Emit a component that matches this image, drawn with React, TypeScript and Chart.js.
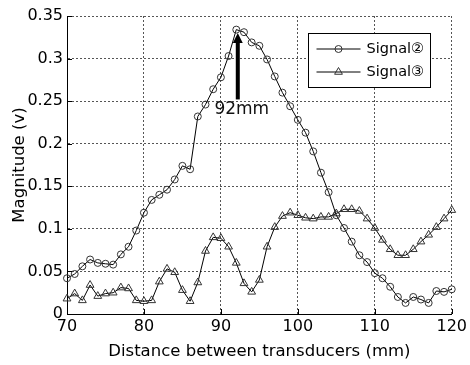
import { useEffect, useRef } from 'react';
import { Chart, registerables } from 'chart.js';

Chart.register(...registerables);

// Transducer spacing (mm) and the measured magnitudes (V) of the two signals
const distances = [
  70, 71, 72, 73, 74, 75, 76, 77, 78, 79,
  80, 81, 82, 83, 84, 85, 86, 87, 88, 89,
  90, 91, 92, 93, 94, 95, 96, 97, 98, 99,
  100, 101, 102, 103, 104, 105, 106, 107, 108, 109,
  110, 111, 112, 113, 114, 115, 116, 117, 118, 119,
  120,
];

const signal2 = [
  0.042, 0.047, 0.056, 0.064, 0.060, 0.059, 0.058, 0.070, 0.079, 0.098,
  0.119, 0.134, 0.140, 0.146, 0.158, 0.174, 0.170, 0.232, 0.246, 0.264,
  0.278, 0.303, 0.334, 0.331, 0.319, 0.315, 0.299, 0.279, 0.260, 0.244,
  0.228, 0.213, 0.191, 0.166, 0.143, 0.116, 0.101, 0.085, 0.069, 0.061,
  0.048, 0.042, 0.032, 0.020, 0.013, 0.020, 0.017, 0.013, 0.027, 0.026,
  0.029,
];

const signal3 = [
  0.018, 0.024, 0.016, 0.034, 0.021, 0.024, 0.025, 0.031, 0.030, 0.016,
  0.015, 0.016, 0.038, 0.053, 0.049, 0.028, 0.015, 0.037, 0.074, 0.090,
  0.089, 0.079, 0.060, 0.036, 0.026, 0.040, 0.079, 0.102, 0.115, 0.119,
  0.116, 0.113, 0.112, 0.114, 0.114, 0.118, 0.123, 0.123, 0.121, 0.112,
  0.101, 0.087, 0.076, 0.069, 0.069, 0.076, 0.085, 0.093, 0.102, 0.112,
  0.122,
];

const seriesNames = ['Signal②', 'Signal③'];
const xTickValues = [70, 80, 90, 100, 110, 120];
const yTickLabels = ['0', '0.05', '0.1', '0.15', '0.2', '0.25', '0.3', '0.35'];
const xTitle = 'Distance between transducers (mm)';
const yTitle = 'Magnitude (v)';

// Peak marker: arrow pointing at the maximum of Signal②
const peakDistance = 92;
const peakLabel = '92mm';
const arrowBaseValue = 0.252;
const arrowTipValue = 0.33;

const FONT = 'DejaVu Sans';

function drawMarker(ctx: CanvasRenderingContext2D, style: string, x: number, y: number, r: number) {
  ctx.beginPath();
  if (style === 'triangle') {
    ctx.moveTo(x, y - r);
    ctx.lineTo(x + 0.866 * r, y + 0.5 * r);
    ctx.lineTo(x - 0.866 * r, y + 0.5 * r);
    ctx.closePath();
  } else {
    ctx.arc(x, y, r, 0, Math.PI * 2);
  }
  ctx.stroke();
}

// Short tick marks pointing into the plot area, as on a boxed axis
const innerTicks = {
  id: 'innerTicks',
  afterDatasetsDraw(chart: any) {
    const { ctx, chartArea, scales } = chart;
    ctx.save();
    ctx.strokeStyle = '#000';
    ctx.lineWidth = 1;
    ctx.beginPath();
    xTickValues.forEach((v) => {
      const px = Math.round(scales.x.getPixelForValue(v)) + 0.5;
      ctx.moveTo(px, chartArea.bottom);
      ctx.lineTo(px, chartArea.bottom - 5);
    });
    yTickLabels.forEach((t) => {
      const py = Math.round(scales.y.getPixelForValue(parseFloat(t))) + 0.5;
      ctx.moveTo(chartArea.left, py);
      ctx.lineTo(chartArea.left + 5, py);
    });
    ctx.stroke();
    ctx.restore();
  },
};

// Thick arrow with the peak distance written under it
const peakArrow = {
  id: 'peakArrow',
  afterDatasetsDraw(chart: any) {
    const { ctx, scales } = chart;
    const x = scales.x.getPixelForValue(peakDistance) + 1.5;
    const yBase = scales.y.getPixelForValue(arrowBaseValue);
    const yTip = scales.y.getPixelForValue(arrowTipValue);
    const head = 10;
    ctx.save();
    ctx.fillStyle = '#000';
    ctx.fillRect(x - 2, yTip + head - 1, 4, yBase - yTip - head + 1);
    ctx.beginPath();
    ctx.moveTo(x, yTip);
    ctx.lineTo(x + 5, yTip + head);
    ctx.lineTo(x - 5, yTip + head);
    ctx.closePath();
    ctx.fill();
    ctx.fillStyle = '#111';
    ctx.font = `17px "${FONT}"`;
    ctx.textAlign = 'center';
    ctx.textBaseline = 'middle';
    ctx.fillText(peakLabel, x + 4, yBase + 10);
    ctx.restore();
  },
};

// Boxed legend inside the upper right of the plot
const boxLegend = {
  id: 'boxLegend',
  afterDraw(chart: any) {
    const { ctx, chartArea } = chart;
    const w = 122;
    const h = 54;
    const left = Math.round(chartArea.right - 22 - w) + 0.5;
    const top = Math.round(chartArea.top + 17) + 0.5;
    ctx.save();
    ctx.fillStyle = '#fff';
    ctx.fillRect(left, top, w, h);
    ctx.strokeStyle = '#000';
    ctx.lineWidth = 1;
    ctx.strokeRect(left, top, w, h);
    chart.data.datasets.forEach((ds: any, i: number) => {
      const y = top + 15.5 + i * 23;
      ctx.strokeStyle = ds.borderColor;
      ctx.lineWidth = 1;
      ctx.beginPath();
      ctx.moveTo(left + 8, y);
      ctx.lineTo(left + 52, y);
      ctx.stroke();
      ctx.fillStyle = '#fff';
      ctx.strokeStyle = ds.pointBorderColor;
      drawMarker(ctx, ds.pointStyle, left + 30, y, ds.pointRadius);
      ctx.fillStyle = '#000';
      ctx.font = `14.5px "${FONT}"`;
      ctx.textAlign = 'left';
      ctx.textBaseline = 'middle';
      ctx.fillText(ds.label, left + 58, y);
    });
    ctx.restore();
  },
};

export default function App() {
  const canvasRef = useRef<HTMLCanvasElement | null>(null);

  useEffect(() => {
    const canvas = canvasRef.current;
    if (!canvas) return;

    const tickFont = { family: FONT, size: 16 };
    const titleFont = { family: FONT, size: 16.5 };
    const gridStyle = { color: '#555', lineWidth: 1, drawTicks: false };
    const borderStyle = { color: '#000', width: 1, dash: [2, 2] };

    const chart = new Chart(canvas, {
      type: 'line',
      data: {
        datasets: [
          {
            label: seriesNames[0],
            data: distances.map((d, i) => ({ x: d, y: signal2[i] })),
            borderColor: '#000',
            borderWidth: 1,
            pointStyle: 'circle',
            pointRadius: 3.5,
            pointBorderColor: '#333',
            pointBackgroundColor: 'rgba(0,0,0,0)',
            pointBorderWidth: 1,
            tension: 0,
            clip: false,
          },
          {
            label: seriesNames[1],
            data: distances.map((d, i) => ({ x: d, y: signal3[i] })),
            borderColor: '#000',
            borderWidth: 1,
            pointStyle: 'triangle',
            pointRadius: 4.5,
            pointBorderColor: '#333',
            pointBackgroundColor: 'rgba(0,0,0,0)',
            pointBorderWidth: 1,
            tension: 0,
            clip: false,
          },
        ],
      },
      options: {
        animation: false,
        responsive: false,
        devicePixelRatio: 1,
        layout: { padding: { top: 16, right: 15, bottom: 0, left: 0 } },
        plugins: {
          legend: { display: false },
          tooltip: { enabled: false },
        },
        scales: {
          x: {
            type: 'linear',
            min: xTickValues[0],
            max: xTickValues[xTickValues.length - 1],
            afterBuildTicks: (scale: any) => {
              scale.ticks = xTickValues.map((v) => ({ value: v }));
            },
            afterFit: (scale: any) => {
              scale.height = 51;
            },
            ticks: {
              font: tickFont,
              color: '#000',
              padding: 3,
              maxRotation: 0,
              autoSkip: false,
              callback: (v: any) => String(v),
            },
            grid: gridStyle,
            border: borderStyle,
            title: {
              display: true,
              text: xTitle,
              font: titleFont,
              color: '#000',
              padding: { top: 0, bottom: 3 },
            },
          },
          y: {
            type: 'linear',
            min: 0,
            max: parseFloat(yTickLabels[yTickLabels.length - 1]),
            afterBuildTicks: (scale: any) => {
              scale.ticks = yTickLabels.map((t) => ({ value: parseFloat(t) }));
            },
            afterFit: (scale: any) => {
              scale.width = 67;
            },
            ticks: {
              font: tickFont,
              color: '#000',
              padding: 4,
              autoSkip: false,
              callback: (_v: any, i: number) => yTickLabels[i],
            },
            grid: gridStyle,
            border: borderStyle,
            title: {
              display: true,
              text: yTitle,
              font: titleFont,
              color: '#000',
              padding: { top: 10, bottom: 0 },
            },
          },
        },
      },
      plugins: [innerTicks, peakArrow, boxLegend],
    } as any);

    return () => chart.destroy();
  }, []);

  return (
    <div style={{ position: 'absolute', left: 0, top: 0, width: 470, height: 365, background: '#fff' }}>
      <canvas ref={canvasRef} width={470} height={365} />
    </div>
  );
}
